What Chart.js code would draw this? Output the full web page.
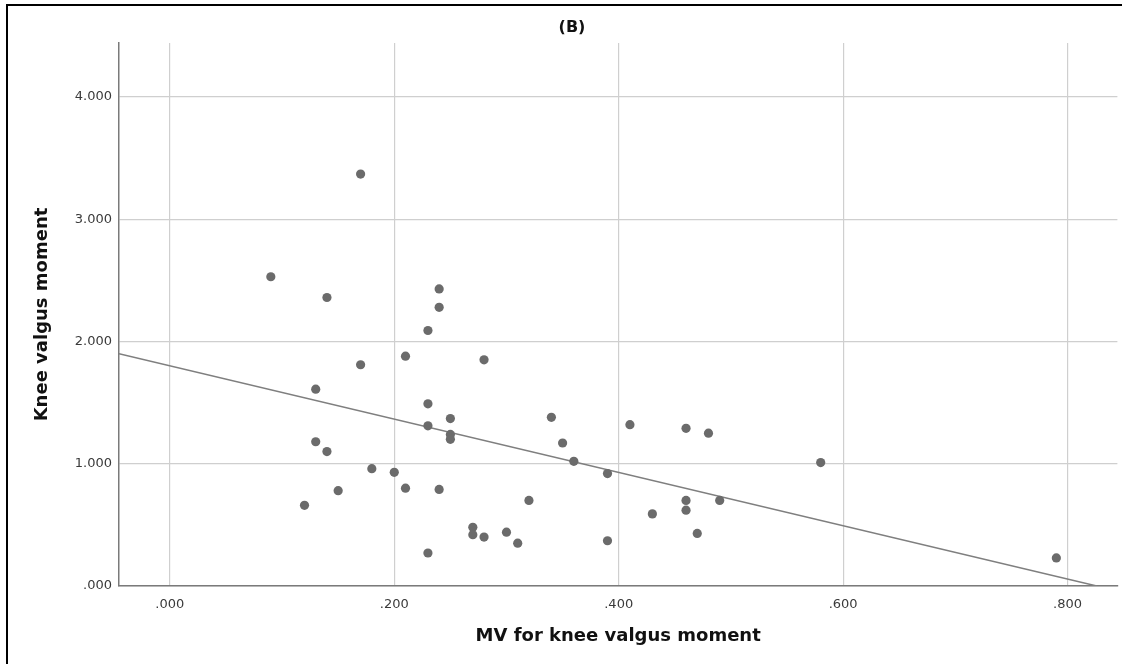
<!DOCTYPE html>
<html><head><meta charset="utf-8">
<script src="https://cdn.jsdelivr.net/npm/chart.js@4/dist/chart.umd.min.js"></script>
<style>
html,body{margin:0;padding:0;background:#fff;overflow:hidden}
#wrap{position:absolute;left:0;top:0;width:1122px;height:664px}
#frame{position:absolute;left:6px;top:4px;width:1140px;height:700px;border:2px solid #000;pointer-events:none}
</style></head><body>
<div id="wrap"><canvas id="c" width="1122" height="664"></canvas></div>
<div id="frame"></div>
<script>
// Scatter data: MV for knee valgus moment (x) vs Knee valgus moment (y)
const xVals = [0.09,0.17,0.14,0.24,0.24,0.23,0.17,0.21,0.28,0.13,0.23,0.25,0.23,0.25,0.25,0.13,0.14,0.18,0.20,0.21,0.15,0.24,0.12,0.23,0.27,0.27,0.28,0.30,0.31,0.32,0.34,0.35,0.36,0.39,0.39,0.41,0.43,0.46,0.48,0.46,0.46,0.47,0.49,0.58,0.79];
const yVals = [2.53,3.37,2.36,2.43,2.28,2.09,1.81,1.88,1.85,1.61,1.49,1.37,1.31,1.24,1.20,1.18,1.10,0.96,0.93,0.80,0.78,0.79,0.66,0.27,0.48,0.42,0.40,0.44,0.35,0.70,1.38,1.17,1.02,0.92,0.37,1.32,0.59,1.29,1.25,0.70,0.62,0.43,0.70,1.01,0.23];
// Fit line end points
const fitX = [-0.0453, 0.826];
const fitY = [1.90, 0.0];
// Tick labels
const xTicks = [0, 0.2, 0.4, 0.6, 0.8];
const yTicks = [0, 1, 2, 3, 4];

const fmt = v => v.toFixed(3).replace(/^0/, '');
const pts = xVals.map((x, i) => ({x: x, y: yVals[i]}));
const fitPts = fitX.map((x, i) => ({x: x, y: fitY[i]}));

const tickFont = {family: 'DejaVu Sans', size: 13};
const titleFont = {family: 'DejaVu Sans', size: 18, weight: 'bold'};

new Chart(document.getElementById('c'), {
  type: 'scatter',
  data: {
    datasets: [
      {type: 'scatter', data: pts, backgroundColor: '#6b6b6b', borderWidth: 0, pointRadius: 4.6, order: 1},
      {type: 'line', data: fitPts, borderColor: '#7f7f7f', borderWidth: 1.5, pointRadius: 0, fill: false, order: 2}
    ]
  },
  options: {
    responsive: false,
    animation: false,
    devicePixelRatio: 1,
    layout: {padding: {left: 24, right: 2, top: 0, bottom: 4}},
    plugins: {
      legend: {display: false},
      tooltip: {enabled: false},
      title: {display: true, text: '(B)', color: '#111', fullSize: true,
        font: {family: 'DejaVu Sans', size: 16, weight: 'bold'}, padding: {top: 18, bottom: 5.8}}
    },
    scales: {
      x: {
        type: 'linear', min: -0.0453, max: 0.8444,
        afterBuildTicks: s => { s.ticks = xTicks.map(v => ({value: v})); },
        afterFit: s => { s.height = 74; s.paddingRight = 0; s.paddingLeft = 0; },
        grid: {color: '#cfcfcf', lineWidth: 1.2, drawTicks: false},
        border: {color: '#7a7a7a', width: 1.5},
        ticks: {font: tickFont, color: '#3a3a3a', padding: 11, maxRotation: 0, callback: v => fmt(v)},
        title: {display: true, text: 'MV for knee valgus moment', color: '#111', font: titleFont, padding: {top: 0, bottom: 13}}
      },
      y: {
        type: 'linear', min: 0, max: 4.442,
        afterBuildTicks: s => { s.ticks = yTicks.map(v => ({value: v})); },
        afterFit: s => { s.width = 95; s.paddingTop = 0; s.paddingBottom = 0; },
        grid: {color: '#cfcfcf', lineWidth: 1.2, drawTicks: false},
        border: {color: '#7a7a7a', width: 1.5},
        ticks: {font: tickFont, color: '#3a3a3a', padding: 7, callback: v => fmt(v)},
        title: {display: true, text: 'Knee valgus moment', color: '#111', font: titleFont, padding: {top: 8, bottom: 0}}
      }
    }
  }
});
</script>
</body></html>
